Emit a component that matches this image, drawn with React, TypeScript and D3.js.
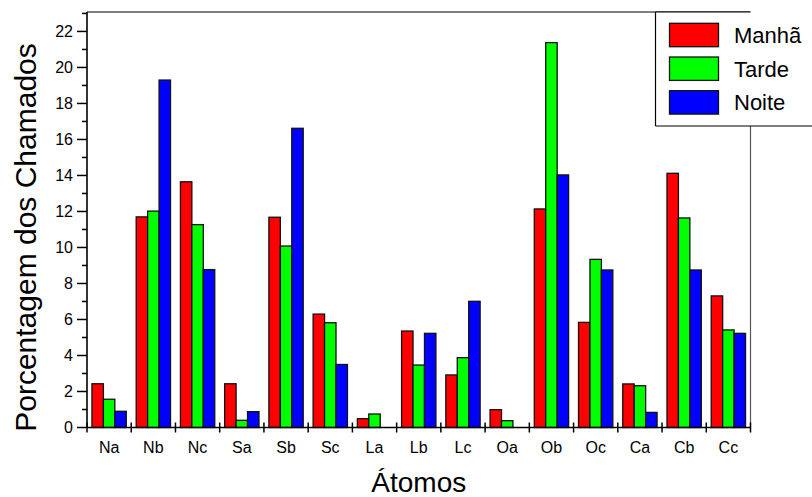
import React from "react";
import * as d3 from "d3";

const categories = ["Na", "Nb", "Nc", "Sa", "Sb", "Sc", "La", "Lb", "Lc", "Oa", "Ob", "Oc", "Ca", "Cb", "Cc"];
const seriesNames = ["Manhã", "Tarde", "Noite"];
const manha = [2.43, 11.7, 13.65, 2.43, 11.68, 6.3, 0.49, 5.36, 2.92, 0.99, 12.14, 5.84, 2.42, 14.12, 7.31];
const tarde = [1.57, 12.02, 11.27, 0.4, 10.08, 5.82, 0.75, 3.47, 3.88, 0.38, 21.38, 9.34, 2.32, 11.64, 5.42];
const noite = [0.9, 19.3, 8.77, 0.88, 16.62, 3.5, 0, 5.23, 7.01, 0, 14.03, 8.75, 0.84, 8.75, 5.23];
const yMajorTicks = [0, 2, 4, 6, 8, 10, 12, 14, 16, 18, 20, 22];
const colors = ["#FF0000", "#00FF00", "#0000FF"];
const xTitle = "Átomos";
const yTitle = "Porcentagem dos Chamados";

const W = 812;
const H = 497;
const left = 87;
const right = 750.5;
const top = 12;
const bottom = 427.5;
const FONT = "Arial, 'Liberation Sans', Helvetica, sans-serif";

export default function App() {
  const seriesValues = [manha, tarde, noite];
  const x = d3.scaleBand<string>().domain(categories).range([left, right]).paddingInner(0).paddingOuter(0);
  const bw = x.bandwidth();
  const pad = bw * 0.112;
  const xs = d3.scaleBand<string>().domain(seriesNames).range([pad, bw - pad]).padding(0);
  const y = d3.scaleLinear().domain([0, 23.08]).range([bottom, top]);
  const minorTicks = d3.range(1, 24, 2);
  const boundaries = d3.range(0, categories.length + 1).map((i) => left + i * bw);

  return (
    <svg width={W} height={H} style={{ position: "absolute", left: 0, top: 0, background: "#fff" }} fontFamily={FONT}>
      <rect x={0} y={0} width={W} height={H} fill="#fff" />
      {/* bars */}
      {categories.map((c, i) => (
        <g key={c} transform={`translate(${x(c)},0)`}>
          {seriesNames.map((s, j) => {
            const v = seriesValues[j][i];
            if (!v) return null;
            return (
              <rect
                key={s}
                x={xs(s)}
                y={y(v)}
                width={xs.bandwidth()}
                height={y(0) - y(v)}
                fill={colors[j]}
                stroke="#111"
                strokeWidth={1.3}
              />
            );
          })}
        </g>
      ))}
      {/* frame */}
      <line x1={left} x2={right} y1={top} y2={top} stroke="#000" strokeWidth={1.2} />
      <line x1={right} x2={right} y1={top} y2={bottom} stroke="#555" strokeWidth={1.2} />
      <line x1={left} x2={left} y1={top} y2={bottom} stroke="#000" strokeWidth={1.6} />
      <line x1={left} x2={right} y1={bottom} y2={bottom} stroke="#000" strokeWidth={1.6} />
      {/* y ticks */}
      {yMajorTicks.map((t) => (
        <g key={"y" + t}>
          <line x1={left - 10} x2={left} y1={y(t)} y2={y(t)} stroke="#000" strokeWidth={1.5} />
          <text x={73} y={y(t)} dy="0.36em" textAnchor="end" fontSize={16} fill="#000">
            {t}
          </text>
        </g>
      ))}
      {minorTicks.map((t) => (
        <line key={"m" + t} x1={left - 5} x2={left} y1={y(t)} y2={y(t)} stroke="#000" strokeWidth={1.5} />
      ))}
      {/* x ticks */}
      {boundaries.map((bx, i) => (
        <line key={"b" + i} x1={bx} x2={bx} y1={bottom - 5} y2={bottom + 5} stroke="#000" strokeWidth={1.5} />
      ))}
      {categories.map((c) => (
        <text key={"l" + c} x={(x(c) as number) + bw / 2} y={452.5} textAnchor="middle" fontSize={16} fill="#000">
          {c}
        </text>
      ))}
      {/* titles */}
      <text x={(left + right) / 2} y={492} textAnchor="middle" fontSize={28} fill="#000">
        {xTitle}
      </text>
      <text
        transform={`translate(35.5,${237.5}) rotate(-90)`}
        textAnchor="middle"
        fontSize={30}
        fill="#000"
      >
        {yTitle}
      </text>
      {/* legend */}
      <rect x={655.5} y={12} width={170} height={114} fill="#fff" />
      <line x1={655.5} x2={750.5} y1={top} y2={top} stroke="#000" strokeWidth={1.2} />
      <line x1={655.5} x2={655.5} y1={12} y2={126} stroke="#000" strokeWidth={1.2} />
      <line x1={655.5} x2={W} y1={126} y2={126} stroke="#000" strokeWidth={1.2} />
      {seriesNames.map((s, j) => {
        const cy = 35 + j * 33.7;
        return (
          <g key={"lg" + s}>
            <rect x={669.5} y={cy - 11.7} width={49} height={23.4} fill={colors[j]} stroke="#111" strokeWidth={1.3} />
            <text x={734} y={cy + 8} fontSize={22} fill="#000">
              {s}
            </text>
          </g>
        );
      })}
    </svg>
  );
}
